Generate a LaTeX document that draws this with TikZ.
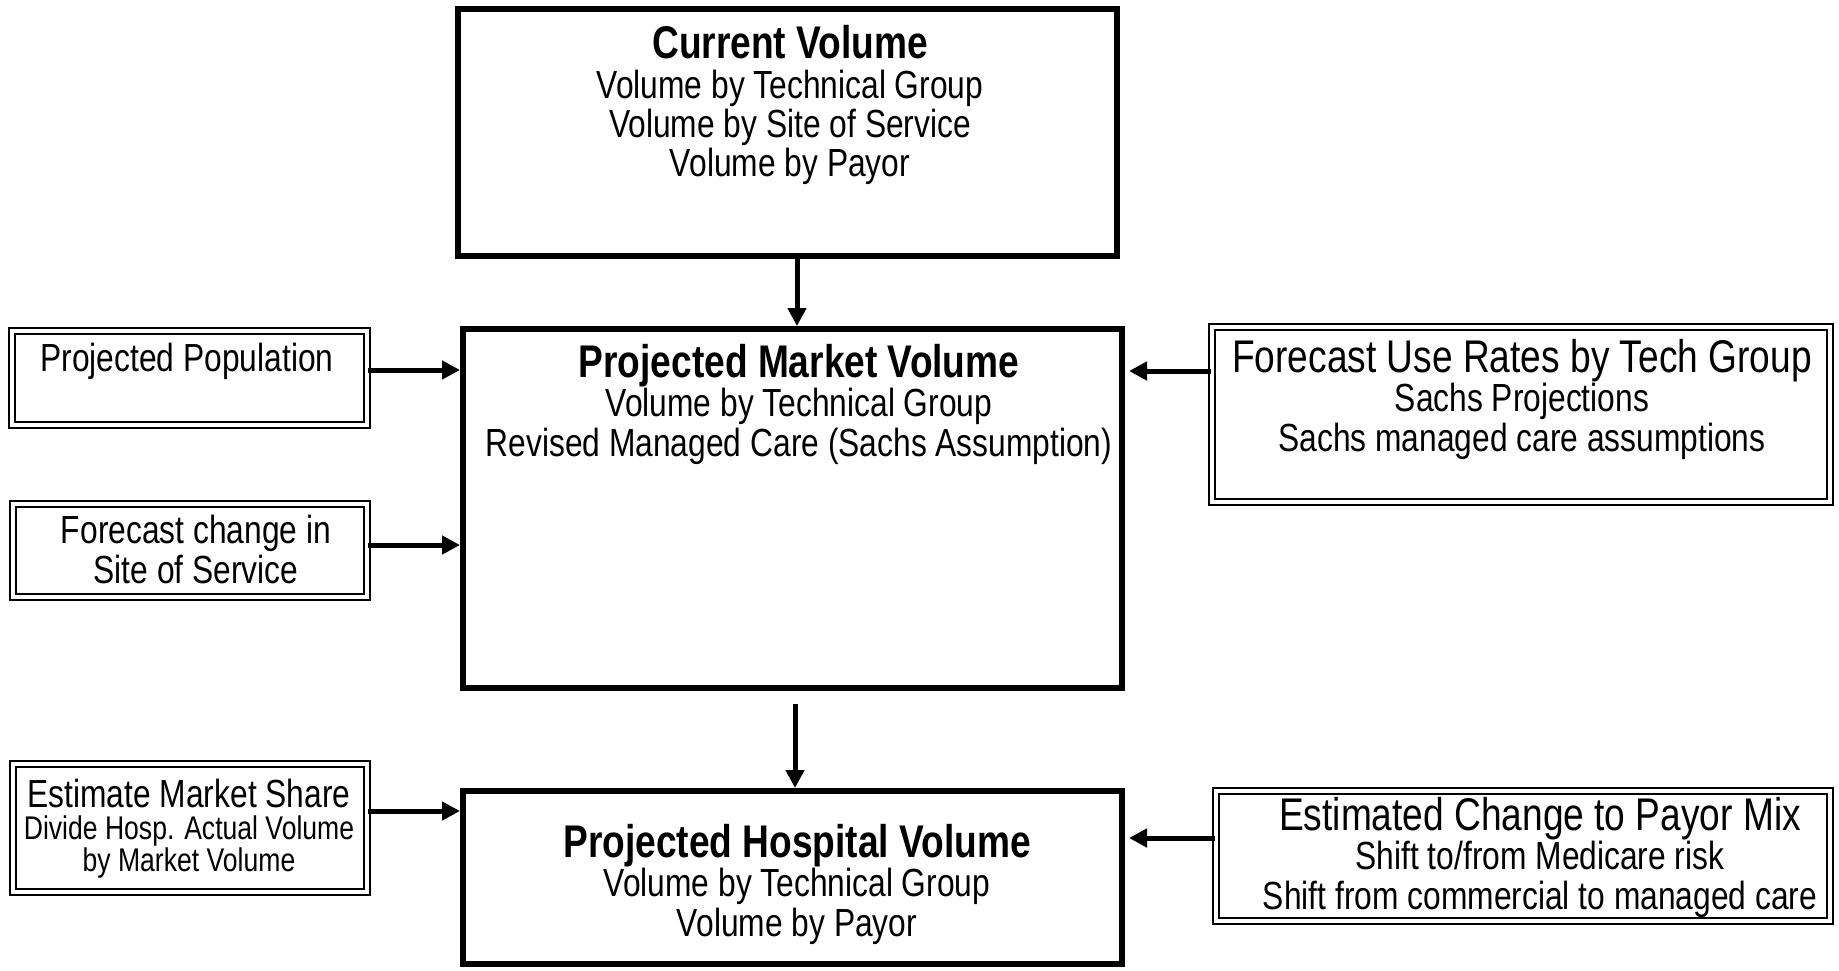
\documentclass[tikz,border=0pt]{standalone}
\usepackage{fontspec}
\setmainfont{Liberation Sans}[FakeStretch=0.81]
\usetikzlibrary{arrows.meta}
\newcommand\ttlsz{\fontsize{22.9}{24}\selectfont}
\newcommand\txtsz{\fontsize{19.6}{19.6}\selectfont}
\newcommand\smlsz{\fontsize{16.4}{16}\selectfont}

\begin{document}
\begin{tikzpicture}
[x=0.5pt, y=-0.5pt, >={Triangle[length=9pt, width=9pt]},
 mainbox/.style={draw, rectangle, line width=3pt, inner sep=0},
 sidebox/.style={draw, rectangle, double, line width=1.1pt, double distance=1.6pt, inner sep=0},
 txt/.style={align=center, inner sep=0, anchor=base, font=\txtsz},
 arr/.style={->, line width=2.5pt}]
\useasboundingbox (0,0) rectangle (1839,970);
% main column
\node (cur) [mainbox, minimum width=329.5pt, minimum height=123.5pt] at (787.5, 132.5) {};
\node (pmv) [mainbox, minimum width=329.5pt, minimum height=179.5pt] at (792.5, 508.5) {};
\node (phv) [mainbox, minimum width=329.5pt, minimum height=86.5pt] at (792.5, 877.5) {};
\node (curtxt) [txt] at (790, 176.5) {{\ttlsz\bfseries Current Volume}\\Volume by Technical Group\\Volume by Site of Service\\Volume by Payor};
\node (pmvtxt) [txt] at (799, 456) {{\ttlsz\bfseries Projected Market Volume}\\Volume by Technical Group\\Revised Managed Care (Sachs Assumption)};
\node (phvtxt) [txt] at (797, 936) {{\ttlsz\bfseries Projected Hospital Volume}\\Volume by Technical Group\\Volume by Payor};
% inputs on the left
\node (pp) [sidebox, minimum width=177.5pt, minimum height=47pt] at (189.5, 378) {};
\node (fc) [sidebox, minimum width=177pt, minimum height=46.5pt] at (190, 550.5) {};
\node (ems) [sidebox, minimum width=177pt, minimum height=64pt] at (190, 828) {};
\node (pptxt) [txt] at (187, 371) {Projected Population};
\node (fctxt) [txt] at (196, 583) {Forecast change in\\Site of Service};
\node (emstxt) [txt, font=\smlsz] at (189, 871) {{\txtsz Estimate Market Share}\\Divide Hosp. Actual Volume\\by Market Volume};
% inputs on the right
\node (fur) [sidebox, minimum width=309pt, minimum height=87.5pt] at (1521, 414.5) {};
\node (ecp) [sidebox, minimum width=307pt, minimum height=65pt] at (1523, 856) {};
\node (furtxt) [txt] at (1522, 451) {{\ttlsz Forecast Use Rates by Tech Group}\\Sachs Projections\\Sachs managed care assumptions};
\node (ecptxt) [txt] at (1540, 909) {{\ttlsz Estimated Change to Payor Mix}\\Shift to/from Medicare risk\\Shift from commercial to managed care};
% arrows
\draw [arr] ([xshift=4.75pt]cur.south) -- ([xshift=4.75pt]cur.south |- pmv.north);
\draw [arr, shorten <=6.5pt] ([xshift=1.25pt]pmv.south) -- ([xshift=1.25pt]pmv.south |- phv.north);
\draw [arr] ([yshift=4pt]pp.east) -- ([yshift=4pt]pp.east -| pmv.west);
\draw [arr] ([yshift=2.75pt]fc.east) -- ([yshift=2.75pt]fc.east -| pmv.west);
\draw [arr] ([yshift=8.5pt]ems.east) -- ([yshift=8.5pt]ems.east -| phv.west);
\draw [arr, shorten >=2pt] ([yshift=21.75pt]fur.west) -- ([yshift=21.75pt]fur.west -| pmv.east);
\draw [arr, shorten >=2pt] ([yshift=9pt]ecp.west) -- ([yshift=9pt]ecp.west -| phv.east);
\end{tikzpicture}
\end{document}
